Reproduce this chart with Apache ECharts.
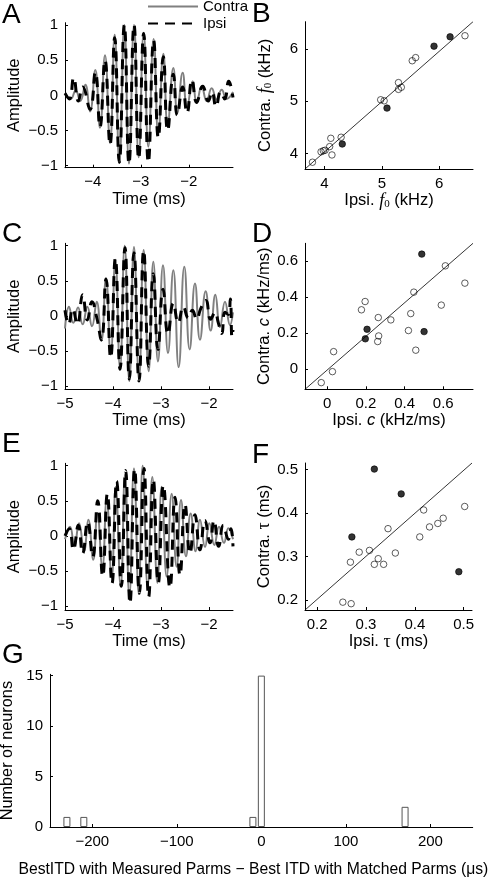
<!DOCTYPE html>
<html><head><meta charset="utf-8">
<script src="https://cdn.jsdelivr.net/npm/echarts@6/dist/echarts.min.js"></script>
<style>html,body{margin:0;padding:0;background:#fff}#c{width:491px;height:878px}</style>
</head><body><div id="c"></div>
<script>
// ---------------- DATA ----------------
// Panel A waveforms: [time (ms), amplitude] at extrema
const aContra = [[-4.58,0.03],[-4.462,-0.05],[-4.358,0.07],[-4.261,-0.08],[-4.156,0.15],[-4.059,-0.23],[-3.948,0.36],[-3.851,-0.46],[-3.747,0.57],[-3.642,-0.68],[-3.545,0.86],[-3.448,-0.96],[-3.344,1.0],[-3.247,-0.97],[-3.142,1.0],[-3.045,-0.88],[-2.941,0.89],[-2.844,-0.73],[-2.733,0.8],[-2.636,-0.56],[-2.531,0.59],[-2.441,-0.42],[-2.323,0.39],[-2.24,-0.25],[-2.129,0.32],[-2.038,-0.17],[-1.92,0.2],[-1.837,-0.11],[-1.733,0.13],[-1.629,-0.08],[-1.524,0.1],[-1.42,-0.06],[-1.316,0.08],[-1.212,-0.05],[-1.08,0.05]];
const aIpsi = [[-4.58,0.03],[-4.49,-0.05],[-4.399,0.25],[-4.302,-0.08],[-4.212,0.12],[-4.059,-0.2],[-3.948,0.33],[-3.851,-0.45],[-3.747,0.5],[-3.642,-0.7],[-3.545,0.82],[-3.448,-0.95],[-3.344,1.0],[-3.247,-0.97],[-3.142,1.0],[-3.045,-0.9],[-2.941,0.88],[-2.844,-0.95],[-2.733,0.78],[-2.636,-0.6],[-2.531,0.55],[-2.441,-0.5],[-2.323,0.3],[-2.24,-0.28],[-2.129,0.12],[-2.038,-0.25],[-1.934,0.22],[-1.837,-0.1],[-1.711,0.13],[-1.594,-0.08],[-1.518,0.05],[-1.434,-0.16],[-1.337,0.05],[-1.254,-0.05],[-1.17,0.2],[-1.08,-0.03]];
// Panel C waveforms
const cContra = [[-5.0,-0.18],[-4.917,0.13],[-4.826,-0.1],[-4.729,0.12],[-4.632,-0.12],[-4.535,0.13],[-4.438,-0.15],[-4.34,0.2],[-4.243,-0.36],[-4.146,0.54],[-4.049,-0.55],[-3.951,0.8],[-3.854,-0.74],[-3.757,1.0],[-3.66,-0.93],[-3.563,0.98],[-3.458,-0.91],[-3.361,0.94],[-3.257,-0.79],[-3.16,0.77],[-3.063,-0.65],[-2.958,0.72],[-2.854,-0.53],[-2.743,0.65],[-2.632,-0.73],[-2.514,0.7],[-2.403,-0.48],[-2.292,0.46],[-2.188,-0.34],[-2.069,0.35],[-1.965,-0.21],[-1.868,0.3],[-1.771,-0.16],[-1.667,0.2],[-1.563,-0.13],[-1.5,0.05]];
const cIpsi = [[-5.0,0.08],[-4.924,-0.12],[-4.84,0.1],[-4.743,-0.12],[-4.632,0.3],[-4.535,-0.06],[-4.438,0.2],[-4.34,-0.02],[-4.243,-0.34],[-4.146,0.52],[-4.049,-0.6],[-3.951,0.82],[-3.854,-0.76],[-3.75,0.97],[-3.66,-0.9],[-3.563,0.9],[-3.458,-0.93],[-3.361,0.93],[-3.257,-0.72],[-3.16,0.6],[-3.063,-0.48],[-2.958,0.38],[-2.854,-0.26],[-2.743,0.18],[-2.639,-0.1],[-2.535,0.13],[-2.431,-0.03],[-2.347,0.08],[-2.257,-0.05],[-2.174,0.1],[-2.069,0.22],[-1.965,-0.05],[-1.875,0.05],[-1.806,-0.1],[-1.736,-0.25],[-1.667,0.05],[-1.597,0.02],[-1.556,0.24],[-1.521,-0.3],[-1.5,-0.2]];
// Panel E waveforms
const eContra = [[-5.0,-0.05],[-4.896,0.13],[-4.806,-0.15],[-4.708,0.18],[-4.604,-0.22],[-4.514,0.23],[-4.41,-0.34],[-4.326,0.32],[-4.222,-0.44],[-4.132,0.51],[-4.028,-0.6],[-3.944,0.7],[-3.84,-0.72],[-3.75,0.87],[-3.66,-0.86],[-3.563,0.96],[-3.465,-0.82],[-3.382,1.0],[-3.278,-0.72],[-3.181,0.84],[-3.076,-0.67],[-2.986,0.7],[-2.882,-0.58],[-2.778,0.6],[-2.674,-0.44],[-2.583,0.51],[-2.479,-0.29],[-2.382,0.32],[-2.278,-0.22],[-2.188,0.23],[-2.083,-0.16],[-1.993,0.18],[-1.889,-0.13],[-1.792,0.13],[-1.688,-0.1],[-1.597,0.11],[-1.5,-0.05]];
const eIpsi = [[-5.0,0.0],[-4.91,0.1],[-4.826,-0.2],[-4.722,0.15],[-4.632,-0.25],[-4.528,0.2],[-4.424,-0.3],[-4.319,0.5],[-4.215,-0.58],[-4.118,0.6],[-4.021,-0.68],[-3.924,0.78],[-3.826,-0.72],[-3.736,0.93],[-3.646,-0.96],[-3.549,0.95],[-3.451,-0.82],[-3.354,0.96],[-3.257,-0.87],[-3.16,0.8],[-3.056,-0.67],[-2.951,0.72],[-2.813,-0.74],[-2.708,0.55],[-2.604,-0.56],[-2.5,0.45],[-2.396,-0.25],[-2.292,0.3],[-2.188,-0.2],[-2.083,0.22],[-1.979,-0.1],[-1.896,0.22],[-1.799,-0.15],[-1.701,0.15],[-1.597,-0.05],[-1.542,0.1],[-1.5,-0.15]];
// Panel B: f0 (kHz) [ipsi, contra]
const bOpen = [[3.79,3.83],[3.94,4.03],[3.98,4.05],[4.01,4.06],[4.09,4.13],[4.11,4.29],[4.13,3.97],[4.29,4.31],[4.98,5.03],[5.04,5.01],[5.29,5.36],[5.29,5.23],[5.34,5.27],[5.53,5.78],[5.59,5.84],[6.45,6.26]];
const bFilled = [[4.31,4.18],[5.09,4.87],[5.91,6.06],[6.19,6.24]];
// Panel D: chirp c (kHz/ms)
const dOpen = [[-0.031,-0.074],[0.027,-0.013],[0.033,0.098],[0.177,0.33],[0.196,0.376],[0.261,0.154],[0.266,0.185],[0.264,0.287],[0.329,0.274],[0.42,0.215],[0.432,0.309],[0.448,0.428],[0.458,0.106],[0.59,0.356],[0.611,0.574],[0.712,0.478]];
const dFilled = [[0.197,0.169],[0.206,0.222],[0.489,0.639],[0.501,0.209]];
// Panel F: tau (ms)
const fOpen = [[0.2525,0.195],[0.2695,0.1915],[0.268,0.287],[0.286,0.31],[0.307,0.314],[0.317,0.282],[0.325,0.295],[0.336,0.282],[0.345,0.364],[0.36,0.308],[0.41,0.345],[0.418,0.407],[0.43,0.368],[0.447,0.376],[0.458,0.388],[0.502,0.415]];
const fFilled = [[0.271,0.345],[0.317,0.501],[0.372,0.444],[0.49,0.265]];
// Panel G histogram
const gBins = [-230, -210, -10, 0, 170];
const gCounts = [1, 1, 1, 15, 2];
// axis limits
const limA = {x:[-4.58,-1.08], y:[-1.028,1.033]};
const limB = {x:[3.66,6.59], y:[3.7,6.53]};
const limC = {x:[-5,-1.5], y:[-1.047,1.034]};
const limD = {x:[-0.115,0.754], y:[-0.111,0.699]};
const limE = {x:[-5,-1.5], y:[-1.057,1.034]};
const limF = {x:[0.175,0.517], y:[0.177,0.515]};
const limG = {x:[-250,250], y:[0,15.13]};
// tick labels
const ticksTimeA = [-4,-3,-2];
const ticksTime = [-5,-4,-3,-2];
const ticksAmp = [-1,-0.5,0,0.5,1];
const ticksF0 = [4,5,6];
const ticksChirp = [0,0.2,0.4,0.6];
const ticksTau = [0.2,0.3,0.4,0.5];
const ticksGx = [-200,-100,0,100,200];
const ticksGy = [0,5,10,15];
const panelLetters = ['A','B','C','D','E','F','G'];

// ---------------- CHART ----------------
const FONT = 'Liberation Sans';
const SERIF = 'Liberation Serif';
const fmt = v => (v < 0 ? '\u2212' + String(-v) : String(v));
const rich = {
  it: {fontFamily: SERIF, fontStyle: 'italic', fontSize: 18, color: '#000'},
  sub: {fontFamily: SERIF, fontSize: 11, color: '#000', verticalAlign: 'bottom', padding: [6,0,0,0]},
  itc: {fontFamily: FONT, fontStyle: 'italic', fontSize: 16.5, color: '#000'},
  tau: {fontFamily: SERIF, fontSize: 18, color: '#000'}
};
function axis(gi, lim, ticks, name, gap, extra) {
  return Object.assign({
    type: 'value', gridIndex: gi, min: lim[0], max: lim[1],
    axisLine: {show: true, onZero: false, lineStyle: {color: '#000', width: 1}},
    axisTick: {show: true, inside: true, length: 3, customValues: ticks, lineStyle: {color: '#000', width: 1}},
    axisLabel: {show: true, customValues: ticks, formatter: fmt, color: '#000', fontFamily: FONT, fontSize: 15, margin: 7},
    splitLine: {show: false},
    name: name, nameLocation: 'middle', nameGap: gap,
    nameTextStyle: {color: '#000', fontFamily: FONT, fontSize: 16.5, rich: rich}
  }, extra || {});
}
const grids = [
  {left: 65, top: 22.7, width: 168, height: 145},
  {left: 305, top: 21.7, width: 168, height: 147.3},
  {left: 65, top: 243.3, width: 168, height: 146},
  {left: 305, top: 243.3, width: 168, height: 146},
  {left: 65, top: 463.3, width: 168, height: 146.7},
  {left: 305, top: 463, width: 167, height: 147},
  {left: 50, top: 674.3, width: 422.7, height: 152.7}
].map(g => Object.assign({outerBoundsMode: 'none', containLabel: false}, g));

const xAxes = [
  axis(0, limA.x, ticksTimeA, 'Time (ms)', 22),
  axis(1, limB.x, ticksF0, 'Ipsi. {it|f}{sub|0} (kHz)', 18),
  axis(2, limC.x, ticksTime, 'Time (ms)', 22),
  axis(3, limD.x, ticksChirp, 'Ipsi. {itc|c} (kHz/ms)', 20),
  axis(4, limE.x, ticksTime, 'Time (ms)', 22),
  axis(5, limF.x, ticksTau, 'Ipsi. {tau|\u03c4} (ms)', 20),
  axis(6, limG.x, ticksGx, 'BestITD with Measured Parms \u2212 Best ITD with Matched Parms (\u03bcs)', 35,
       {nameTextStyle: {color:'#000', fontFamily: FONT, fontSize: 15.7, padding: [0, 16, 0, 0]}})
];
const yAxes = [
  axis(0, limA.y, ticksAmp, 'Amplitude', 42),
  axis(1, limB.y, ticksF0, 'Contra. {it|f}{sub|0} (kHz)', 31),
  axis(2, limC.y, ticksAmp, 'Amplitude', 42),
  axis(3, limD.y, ticksChirp, 'Contra. {itc|c} (kHz/ms)', 31),
  axis(4, limE.y, ticksAmp, 'Amplitude', 42),
  axis(5, limF.y, ticksTau, 'Contra. {tau|\u03c4} (ms)', 31),
  axis(6, limG.y, ticksGy, 'Number of neurons', 34, {nameTextStyle: {color:'#000', fontFamily: FONT, fontSize: 16.3}})
];

const GRAY = '#808080';
function wave(name, gi, data, dashed) {
  return {
    name: name, type: 'line', xAxisIndex: gi, yAxisIndex: gi, data: data,
    smooth: 0.5, symbol: 'none', silent: true, clip: true,
    itemStyle: {color: dashed ? '#000' : GRAY},
    lineStyle: dashed ? {color: '#000', width: 3, type: [10, 7], cap: 'butt'}
                      : {color: GRAY, width: 2}
  };
}
function diag(gi, lim) {
  return {type: 'line', xAxisIndex: gi, yAxisIndex: gi, symbol: 'none', silent: true,
    data: [[lim.x[0], lim.y[0]], [lim.x[1], lim.y[1]]],
    lineStyle: {color: '#000', width: 0.8}};
}
function dots(gi, data, filled) {
  return {type: 'scatter', xAxisIndex: gi, yAxisIndex: gi, data: data, symbol: 'circle', symbolSize: 6.5, silent: true,
    itemStyle: filled ? {color: '#000', borderColor: '#000', borderWidth: 0.8}
                      : {color: 'rgba(255,255,255,0)', borderColor: '#000', borderWidth: 0.8}};
}
const series = [
  wave('Contra', 0, aContra, false), wave('Ipsi', 0, aIpsi, true),
  diag(1, limB), dots(1, bOpen, false), dots(1, bFilled, true),
  wave('contraC', 2, cContra, false), wave('ipsiC', 2, cIpsi, true),
  diag(3, limD), dots(3, dOpen, false), dots(3, dFilled, true),
  wave('contraE', 4, eContra, false), wave('ipsiE', 4, eIpsi, true),
  diag(5, limF), dots(5, fOpen, false), dots(5, fFilled, true),
  {type: 'bar', xAxisIndex: 6, yAxisIndex: 6, barWidth: 7, silent: true,
   data: gBins.map((b, i) => [b, gCounts[i]]),
   itemStyle: {color: '#fff', borderColor: '#555', borderWidth: 1}}
];
const letterPos = [[2,1],[252,0],[2,220],[252,220],[2,430],[252,441],[2,641]];
const titles = panelLetters.map((t, i) => ({
  text: t, left: letterPos[i][0], top: letterPos[i][1], padding: 0,
  textStyle: {fontFamily: FONT, fontSize: 28, fontWeight: 'normal', color: '#000'}
}));
const option = {
  animation: false,
  backgroundColor: '#fff',
  title: titles,
  legend: {
    data: ['Contra', 'Ipsi'], orient: 'vertical', left: 147, top: -1, padding: 0,
    itemWidth: 50, itemHeight: 14, itemGap: 2, selectedMode: false,
    itemStyle: {color: 'rgba(0,0,0,0)', borderColor: 'rgba(0,0,0,0)', borderWidth: 0, opacity: 0},
    textStyle: {fontFamily: FONT, fontSize: 15, color: '#000'}
  },
  grid: grids, xAxis: xAxes, yAxis: yAxes, series: series
};
const chart = echarts.init(document.getElementById('c'), null, {renderer: 'canvas'});
chart.setOption(option);
</script></body></html>
